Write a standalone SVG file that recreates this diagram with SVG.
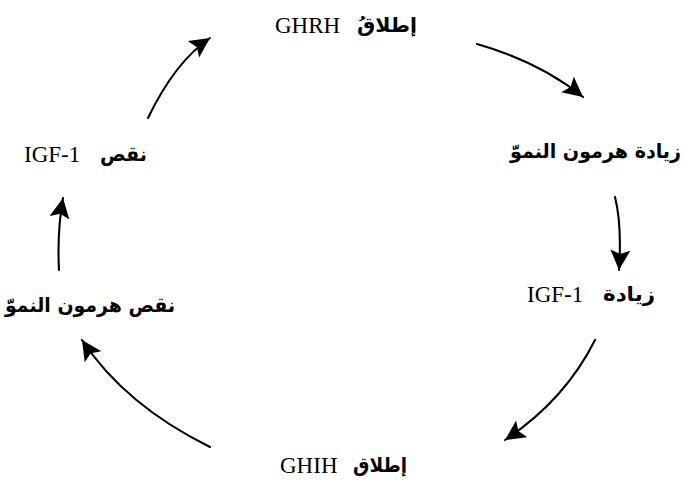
<svg xmlns="http://www.w3.org/2000/svg" width="685" height="483" viewBox="0 0 685 483">
  <style>
    .lat { font-family: "Liberation Serif", "Times New Roman", serif; font-size: 23px; fill: #000; }
    .ar { font-family: "DejaVu Sans", sans-serif; font-weight: bold; font-size: 20px; fill: #000; text-anchor: end; }
    .arrow { fill: none; stroke: #000; stroke-width: 2.1; stroke-linecap: round; marker-end: url(#head); }
  </style>
  <defs>
    <marker id="head" markerUnits="userSpaceOnUse" markerWidth="22" markerHeight="22" refX="20" refY="10" orient="auto">
      <path d="M0,0 L20,10 L0,20 L4,10 z" fill="#000"/>
    </marker>
  </defs>
  <rect width="685" height="483" fill="#fff"/>

  <!-- labels: Latin run on the left, Arabic run anchored by its right edge -->
  <g id="ghrh-release">
    <text class="lat" x="275" y="33">GHRH</text>
    <text class="ar" x="417" y="32" textLength="60" lengthAdjust="spacingAndGlyphs">إطلاقُ</text>
  </g>
  <g id="gh-increase">
    <text class="ar" x="681" y="158" textLength="171" lengthAdjust="spacingAndGlyphs">زيادة هرمون النموّ</text>
  </g>
  <g id="igf-increase">
    <text class="lat" x="527" y="302">IGF-1</text>
    <text class="ar" x="655" y="301" textLength="52" lengthAdjust="spacingAndGlyphs">زيادة</text>
  </g>
  <g id="ghih-release">
    <text class="lat" x="280" y="473">GHIH</text>
    <text class="ar" x="407" y="472" textLength="54" lengthAdjust="spacingAndGlyphs">إطلاق</text>
  </g>
  <g id="gh-decrease">
    <text class="ar" x="175" y="312" textLength="170" lengthAdjust="spacingAndGlyphs">نقص هرمون النموّ</text>
  </g>
  <g id="igf-decrease">
    <text class="lat" x="24" y="162">IGF-1</text>
    <text class="ar" x="147" y="161" textLength="47" lengthAdjust="spacingAndGlyphs">نقص</text>
  </g>

  <!-- connectors -->
  <g id="connectors">
    <path class="arrow" d="M148,118 Q175,62 210,38"/>
    <path class="arrow" d="M477,44 Q540,62 583,97"/>
    <path class="arrow" d="M615,197 Q622,225 619,270"/>
    <path class="arrow" d="M595,340 Q565,400 505,440"/>
    <path class="arrow" d="M210,447 Q125,405 82,340"/>
    <path class="arrow" d="M59,270 Q57,232 63,198"/>
  </g>
</svg>
